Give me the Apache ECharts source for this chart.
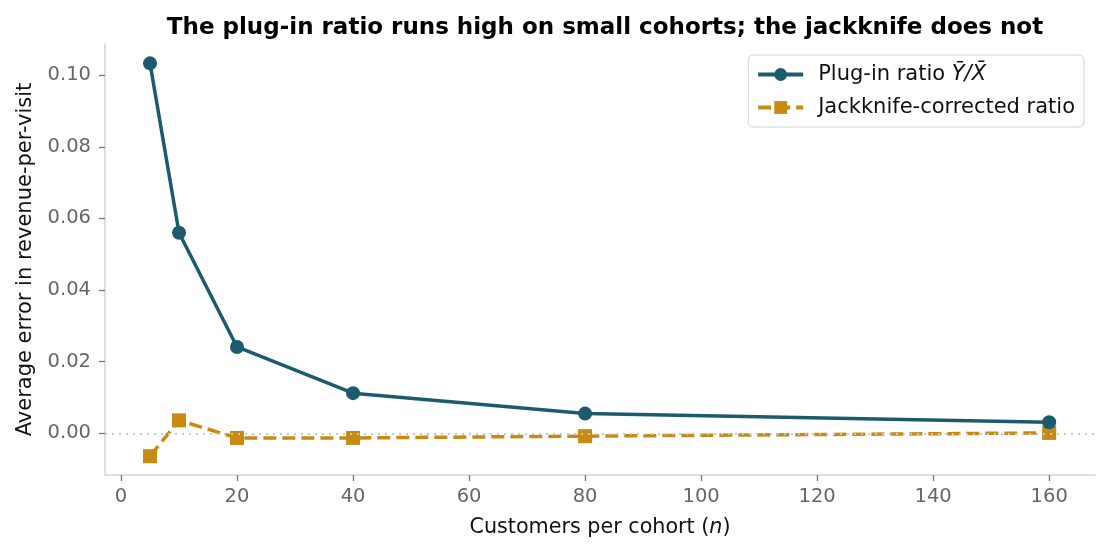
<!DOCTYPE html>
<html>
<head>
<meta charset="utf-8">
<script src="https://cdn.jsdelivr.net/npm/echarts@6/dist/echarts.min.js"></script>
<style>html,body{margin:0;padding:0;background:#fff}#c{width:1110px;height:555px}</style>
</head>
<body>
<div id="c"></div>
<script>
var cohortSizes = [5, 10, 20, 40, 80, 160];
var plugInError = [0.1033, 0.0560, 0.0241, 0.0112, 0.0055, 0.0031];
var jackknifeError = [-0.0064, 0.0036, -0.0013, -0.0013, -0.0008, 0.0001];
var xTicks = [0, 20, 40, 60, 80, 100, 120, 140, 160];
var yTicks = [0, 0.02, 0.04, 0.06, 0.08, 0.10];

var FONT = 'DejaVu Sans';
var TEAL = '#1c5b6d';
var GOLD = '#c98a12';
var chart = echarts.init(document.getElementById('c'), null, {renderer: 'canvas'});
function pairs(xs, ys) { return xs.map(function (x, i) { return [x, ys[i]]; }); }
var richTxt = function (size) {
  return {
    a: {fontFamily: FONT, fontSize: size, color: '#111'},
    i: {fontFamily: FONT, fontSize: size, color: '#111', fontStyle: 'italic'}
  };
};

chart.setOption({
  animation: false,
  textStyle: {fontFamily: FONT},
  title: {
    text: 'The plug-in ratio runs high on small cohorts; the jackknife does not',
    left: 600, top: 12, textAlign: 'center',
    textStyle: {fontFamily: FONT, fontSize: 23, fontWeight: 'bold', color: '#000'}
  },
  grid: {left: 105, right: 15, top: 44, bottom: 80},
  legend: {
    orient: 'vertical', right: 26, top: 55,
    padding: [9, 9, 9, 8], itemGap: 12,
    itemWidth: 45, itemHeight: 16,
    borderColor: '#d0d0d0', borderWidth: 1, borderRadius: 5,
    lineStyle: {width: 3.8},
    textStyle: {fontFamily: FONT, fontSize: 21, color: '#111', padding: [0, 0, 0, 10], rich: richTxt(21)},
    formatter: function (name) {
      if (name.indexOf('Plug-in') === 0) return '{a|Plug-in ratio }{i|Ȳ/X̄}';
      return '{a|' + name + '}';
    },
    data: ['Plug-in ratio', 'Jackknife-corrected ratio']
  },
  xAxis: {
    type: 'value', min: -2.76, max: 167.9,
    name: '{a|Customers per cohort (}{i|n}{a|)}',
    nameLocation: 'middle', nameGap: 42,
    nameTextStyle: {fontFamily: FONT, fontSize: 20.7, color: '#111', rich: richTxt(20.7)},
    axisLine: {show: true, onZero: false, lineStyle: {color: '#d4d4d4', width: 1.5}},
    axisTick: {show: true, length: 6, customValues: xTicks, lineStyle: {color: '#777', width: 1.3}},
    axisLabel: {customValues: xTicks, margin: 12, fontFamily: FONT, fontSize: 19.5, color: '#666'},
    splitLine: {show: false}
  },
  yAxis: {
    type: 'value', min: -0.01165, max: 0.1087,
    name: 'Average error in revenue-per-visit',
    nameLocation: 'middle', nameGap: 69, nameRotate: 90,
    nameTextStyle: {fontFamily: FONT, fontSize: 21, color: '#111'},
    axisLine: {show: true, onZero: false, lineStyle: {color: '#d4d4d4', width: 1.5}},
    axisTick: {show: true, length: 6, customValues: yTicks, lineStyle: {color: '#777', width: 1.3}},
    axisLabel: {customValues: yTicks, margin: 14, fontFamily: FONT, fontSize: 19.5, color: '#666',
      formatter: function (v) { return v.toFixed(2); }},
    splitLine: {show: false}
  },
  series: [
    {
      name: 'Plug-in ratio', type: 'line', z: 3,
      data: pairs(cohortSizes, plugInError),
      symbol: 'circle', symbolSize: 14,
      lineStyle: {color: TEAL, width: 3.5},
      itemStyle: {color: TEAL},
      markLine: {
        silent: true, symbol: 'none', label: {show: false},
        lineStyle: {color: '#c8c8c8', type: [2, 5], width: 1.8},
        data: [{yAxis: 0}]
      }
    },
    {
      name: 'Jackknife-corrected ratio', type: 'line', z: 2,
      data: pairs(cohortSizes, jackknifeError),
      symbol: 'rect', symbolSize: 14,
      lineStyle: {color: GOLD, width: 3.5, type: [13, 6]},
      itemStyle: {color: GOLD}
    }
  ]
});
</script>
</body>
</html>
